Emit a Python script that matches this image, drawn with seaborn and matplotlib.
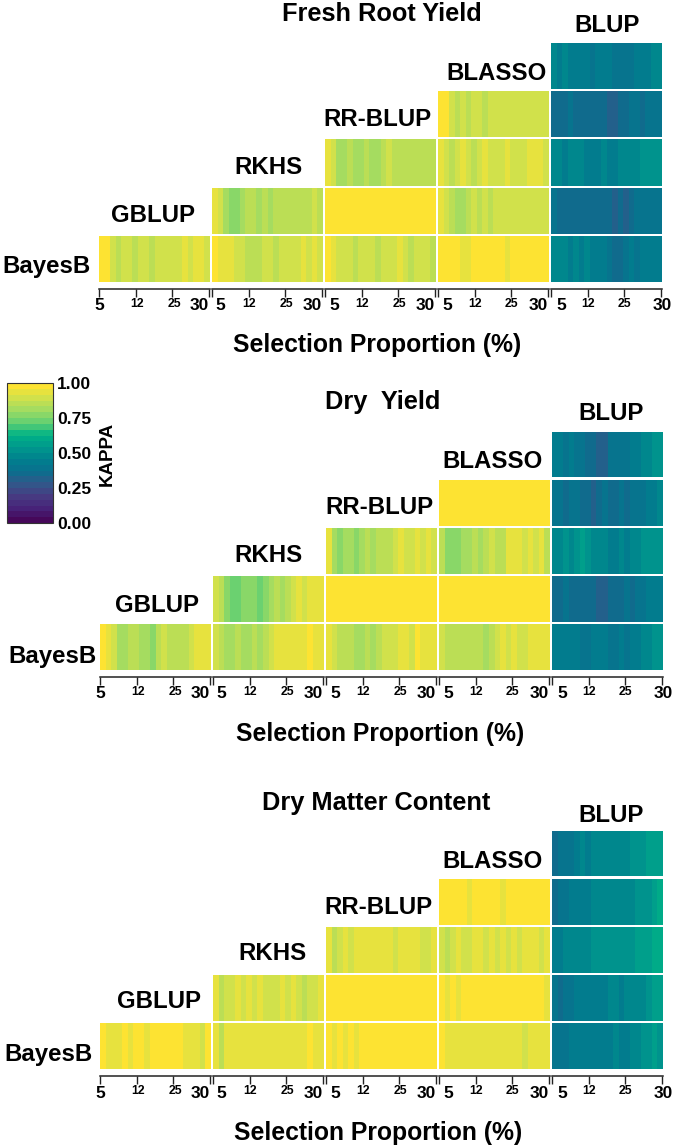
#!/usr/bin/env python
"""
Pairwise KAPPA agreement between prediction models across selection proportions.
Three staircase heatmaps, one per trait, with one shared colorbar.
"""

import numpy as np
import matplotlib
matplotlib.use("Agg")
import matplotlib.pyplot as plt
import seaborn as sns

WIDTH = 675
HEIGHT = 1148

# Each row runs bottom to top and its cells
# are right aligned, so the BayesB row has five cells and the BLASSO row one.
fresh_bayesb = [
    [.97, .96, .88, .85, .89, .90, .85, .88, .90, .86, .89, .90, .91, .88, .90, .93, .90, .94, .93, .90],
    [.97, .95, .92, .92, .90, .90, .86, .85, .87, .89, .89, .86, .88, .89, .90, .91, .93, .91, .92, .89],
    [.97, .92, .90, .88, .90, .87, .89, .90, .89, .86, .90, .91, .88, .92, .90, .87, .91, .88, .90, .86],
    [.97, .98, .96, .97, .95, .94, .97, .98, .97, .98, .98, .97, .95, .98, .98, .98, .98, .98, .98, .98],
    [.46, .48, .47, .44, .47, .45, .46, .43, .44, .42, .40, .37, .36, .40, .42, .41, .43, .44, .44, .45],
]
fresh_gblup = [
    [.94, .90, .80, .78, .79, .80, .84, .87, .83, .85, .82, .85, .84, .86, .87, .85, .87, .85, .88, .86],
    [.98, .98, .98, .98, .97, .98, .98, .98, .98, .97, .98, .98, .98, .98, .98, .98, .97, .98, .98, .98],
    [.95, .90, .85, .81, .82, .86, .88, .86, .88, .87, .89, .90, .90, .89, .90, .90, .90, .90, .90, .90],
    [.38, .36, .37, .37, .36, .37, .35, .36, .36, .35, .34, .33, .35, .33, .37, .38, .38, .38, .39, .40],
]
fresh_rkhs = [
    [.93, .88, .80, .81, .84, .80, .83, .85, .82, .83, .85, .88, .85, .84, .86, .87, .84, .86, .85, .85],
    [.92, .89, .87, .90, .92, .89, .87, .90, .94, .91, .89, .91, .92, .90, .89, .90, .93, .95, .92, .90],
    [.47, .46, .45, .48, .47, .46, .45, .44, .45, .46, .44, .45, .47, .46, .48, .49, .50, .52, .53, .53],
]
fresh_rrblup = [
    [.98, .97, .88, .84, .88, .85, .88, .89, .87, .90, .88, .90, .91, .89, .90, .90, .91, .90, .90, .91],
    [.37, .36, .36, .38, .36, .37, .35, .35, .37, .36, .33, .32, .35, .37, .38, .38, .37, .38, .40, .39],
]
fresh_blasso = [
    [.46, .44, .46, .43, .42, .43, .42, .41, .43, .44, .42, .40, .39, .38, .41, .42, .44, .44, .46, .47],
]

dry_bayesb = [
    [.97, .92, .88, .83, .82, .84, .85, .82, .80, .79, .85, .88, .84, .85, .87, .86, .90, .93, .95, .93],
    [.90, .85, .82, .83, .84, .82, .83, .84, .83, .84, .88, .92, .93, .93, .93, .94, .95, .96, .94, .94],
    [.94, .88, .84, .86, .84, .83, .82, .85, .83, .85, .89, .90, .88, .93, .92, .91, .96, .95, .93, .92],
    [.90, .87, .84, .85, .84, .86, .85, .86, .83, .86, .90, .92, .88, .92, .90, .88, .93, .94, .93, .93],
    [.42, .43, .42, .44, .42, .41, .39, .42, .43, .44, .40, .40, .42, .41, .42, .44, .46, .48, .50, .51],
]
dry_gblup = [
    [.88, .85, .78, .74, .72, .76, .78, .75, .72, .78, .80, .84, .82, .87, .90, .92, .91, .95, .93, .92],
    [.98, .98, .98, .97, .98, .98, .98, .98, .98, .98, .97, .98, .98, .98, .98, .98, .98, .98, .98, .98],
    [.98, .98, .97, .98, .98, .98, .97, .98, .98, .98, .98, .98, .98, .98, .98, .98, .98, .98, .98, .98],
    [.37, .36, .38, .36, .36, .35, .34, .35, .33, .31, .35, .36, .36, .38, .36, .39, .40, .42, .43, .43],
]
dry_rkhs = [
    [.92, .80, .77, .80, .82, .79, .83, .85, .82, .86, .84, .87, .88, .93, .91, .90, .93, .91, .92, .88],
    [.85, .78, .76, .79, .81, .83, .84, .82, .86, .88, .87, .85, .92, .94, .92, .89, .93, .90, .92, .87],
    [.46, .49, .50, .48, .52, .56, .50, .46, .47, .46, .44, .45, .46, .45, .47, .48, .50, .52, .54, .52],
]
dry_rrblup = [
    [.98, .98, .97, .98, .98, .98, .97, .98, .98, .98, .98, .98, .97, .98, .98, .98, .98, .98, .98, .98],
    [.41, .39, .37, .39, .38, .37, .36, .33, .36, .38, .37, .36, .39, .37, .38, .40, .40, .42, .44, .46],
]
dry_blasso = [
    [.44, .42, .40, .42, .39, .38, .36, .36, .33, .32, .38, .38, .40, .40, .42, .44, .46, .46, .50, .52],
]

dmc_bayesb = [
    [.97, .94, .95, .93, .96, .92, .97, .98, .95, .97, .98, .98, .96, .98, .98, .95, .92, .94, .90, .97],
    [.95, .87, .92, .93, .94, .92, .94, .92, .95, .93, .94, .92, .94, .92, .95, .92, .94, .96, .93, .95],
    [.96, .93, .96, .94, .97, .95, .96, .98, .96, .97, .98, .96, .98, .96, .98, .98, .96, .97, .98, .99],
    [.96, .92, .93, .94, .93, .94, .93, .94, .94, .94, .93, .94, .93, .94, .94, .90, .94, .94, .93, .94],
    [.38, .39, .40, .43, .44, .45, .44, .45, .44, .45, .45, .46, .42, .44, .46, .48, .50, .53, .55, .54],
]
dmc_gblup = [
    [.93, .87, .89, .91, .92, .88, .92, .90, .93, .91, .90, .88, .92, .90, .92, .89, .87, .88, .91, .93],
    [.98, .98, .97, .98, .98, .98, .98, .97, .98, .98, .98, .98, .98, .97, .98, .98, .98, .98, .98, .98],
    [.98, .94, .97, .95, .96, .97, .97, .96, .98, .96, .97, .98, .96, .97, .98, .96, .97, .98, .96, .95],
    [.38, .37, .39, .41, .42, .43, .45, .44, .44, .45, .46, .47, .45, .46, .47, .48, .49, .52, .55, .56],
]
dmc_rkhs = [
    [.92, .87, .91, .92, .91, .93, .92, .94, .92, .93, .92, .94, .90, .92, .94, .92, .93, .90, .88, .92],
    [.91, .84, .90, .92, .88, .90, .92, .92, .91, .92, .90, .92, .91, .93, .90, .92, .92, .92, .91, .92],
    [.43, .45, .47, .46, .48, .49, .49, .50, .51, .50, .51, .52, .51, .52, .53, .55, .56, .58, .60, .60],
]
dmc_rrblup = [
    [.98, .96, .98, .97, .96, .95, .97, .98, .96, .98, .97, .94, .98, .97, .98, .98, .97, .98, .96, .97],
    [.37, .38, .41, .42, .43, .44, .45, .46, .46, .47, .46, .48, .47, .48, .49, .50, .52, .54, .58, .60],
]
dmc_blasso = [
    [.37, .38, .39, .41, .44, .46, .45, .46, .47, .47, .46, .48, .47, .48, .50, .50, .52, .55, .56, .58],
]

tick_labels = ["5", "12", "25", "30"]
cbar_ticks = [0.0, 0.25, 0.5, 0.75, 1.0]
model_labels = ["BayesB", "GBLUP", "RKHS", "RR-BLUP", "BLASSO", "BLUP"]

# Layout of the three panels, in pixels of the reference
panels = [
    {
        "title": "Fresh Root Yield", "title_xy": (382, 12),
        "rows": [fresh_bayesb, fresh_gblup, fresh_rkhs, fresh_rrblup, fresh_blasso],
        "cols": [(99, 210), (212, 323), (325, 436), (438, 549), (551, 662)],
        "row_y": [(235.5, 282), (187.5, 233.5), (139, 185.5), (91, 137), (43, 89)],
        "labels": [(47, 264), (153, 214), (269, 166), (377, 118), (496, 72), (607, 24)],
        "xlabel_xy": (377, 343),
    },
    {
        "title": "Dry  Yield", "title_xy": (383, 400),
        "rows": [dry_bayesb, dry_gblup, dry_rkhs, dry_rrblup, dry_blasso],
        "cols": [(100, 211), (213, 324), (326, 437), (439, 550), (552, 663)],
        "row_y": [(624, 670), (576, 622), (528, 574), (480, 526), (432, 477.5)],
        "labels": [(52, 654), (157, 604), (268, 553), (379, 505), (493, 459), (611, 412)],
        "xlabel_xy": (380, 732),
    },
    {
        "title": "Dry Matter Content", "title_xy": (376, 801),
        "rows": [dmc_bayesb, dmc_gblup, dmc_rkhs, dmc_rrblup, dmc_blasso],
        "cols": [(100, 211), (213, 324), (326, 437), (439, 550), (552, 663)],
        "row_y": [(1023, 1069), (975, 1021), (927, 973), (879, 925), (831, 876)],
        "labels": [(49, 1053), (159, 999), (272, 952), (378, 905), (492, 859), (611, 813)],
        "xlabel_xy": (378, 1131),
    },
]

# Where the ticks sit inside each column, and how far the labels are nudged
tick_fracs = [0.0, 0.33, 0.66, 0.99]
label_shift = [
    [0, 1, 2, -10],
    [8, 0, 1, -10],
    [9, 0, 1, -10],
    [9, 0, 0, -10],
    [10, 0, 0, 1],
]

# Banded scale, colours taken from the colorbar of the reference
palette = sns.blend_palette(
    ["#46085a", "#47237a", "#473c82", "#2f5a8a", "#0a6e8e", "#00808e",
     "#009a8c", "#00b386", "#62cf72", "#a0db62", "#cfe14c", "#fde332"],
    n_colors=24,
)


def px_axes(fig, x0, x1, y0, y1):
    """Add axes from pixel edges measured from the top left of the picture."""
    return fig.add_axes([x0 / WIDTH, 1 - y1 / HEIGHT, (x1 - x0) / WIDTH, (y1 - y0) / HEIGHT])


def px_text(fig, xy, text, **kwargs):
    # va=center sits a bit high for capitals, so push the text down
    fig.text(xy[0] / WIDTH, 1 - (xy[1] + 2) / HEIGHT, text, ha="center", va="center",
             fontweight="bold", color="black", **kwargs)


def draw_selection_axis(ax, col_idx, n):
    ax.spines["bottom"].set_visible(True)
    ax.spines["bottom"].set_position(("outward", 5))
    ax.spines["bottom"].set_linewidth(1.1)
    ax.spines["bottom"].set_color("#222222")
    ticks = [f * n for f in tick_fracs]
    ax.set_xticks(ticks)
    ax.set_xticklabels([])
    ax.tick_params(axis="x", length=6, width=1.0, color="#222222", bottom=True)
    for tick, label, dx in zip(ticks, tick_labels, label_shift[col_idx]):
        big = label in ("5", "30")
        ax.annotate(label, xy=(tick, 0), xycoords=("data", "axes fraction"),
                    xytext=(dx, -24 if big else -22), textcoords="offset pixels",
                    ha="center", va="center", fontsize=12.5 if big else 8.8,
                    fontweight="bold", color="black", annotation_clip=False)


def draw_panel(fig, panel, cax=None):
    for row_idx, (row, (y0, y1)) in enumerate(zip(panel["rows"], panel["row_y"])):
        first_col = 5 - len(row)
        for k, cell in enumerate(row):
            col_idx = first_col + k
            x0, x1 = panel["cols"][col_idx]
            ax = px_axes(fig, x0, x1, y0, y1)
            values = np.array([cell])
            if cax is not None:
                sns.heatmap(values, ax=ax, cmap=palette, vmin=0, vmax=1,
                            xticklabels=False, yticklabels=False, cbar=True, cbar_ax=cax,
                            cbar_kws={"ticks": cbar_ticks, "format": "%.2f"})
                cax = None
            else:
                sns.heatmap(values, ax=ax, cmap=palette, vmin=0, vmax=1,
                            xticklabels=False, yticklabels=False, cbar=False)
            if row_idx == 0:
                draw_selection_axis(ax, col_idx, len(cell))

    px_text(fig, panel["title_xy"], panel["title"], fontsize=18.3)
    for xy, label in zip(panel["labels"], model_labels):
        px_text(fig, xy, label, fontsize=17.3)
    px_text(fig, panel["xlabel_xy"], "Selection Proportion (%)", fontsize=17.8)


def main():
    sns.set_style("ticks")
    plt.rcParams["font.family"] = ["Liberation Sans", "DejaVu Sans"]

    fig = plt.figure(figsize=(WIDTH / 100, HEIGHT / 100), dpi=100)
    cax = px_axes(fig, 7, 53, 383, 523)

    draw_panel(fig, panels[0], cax=cax)
    draw_panel(fig, panels[1])
    draw_panel(fig, panels[2])

    # Colorbar text and outline
    cax.tick_params(length=0, pad=3, labelsize=12.6)
    for label in cax.get_yticklabels():
        label.set_fontweight("bold")
        label.set_color("black")
    outline = cax.spines["outline"]
    outline.set_visible(True)
    outline.set_linewidth(0.8)
    outline.set_edgecolor("#333333")
    fig.text(107.5 / WIDTH, 1 - 454 / HEIGHT, "KAPPA", rotation=90, ha="center", va="center",
             fontsize=13.5, fontweight="bold", color="black")

    fig.savefig("out.png", dpi=100, facecolor="white")


if __name__ == "__main__":
    main()
